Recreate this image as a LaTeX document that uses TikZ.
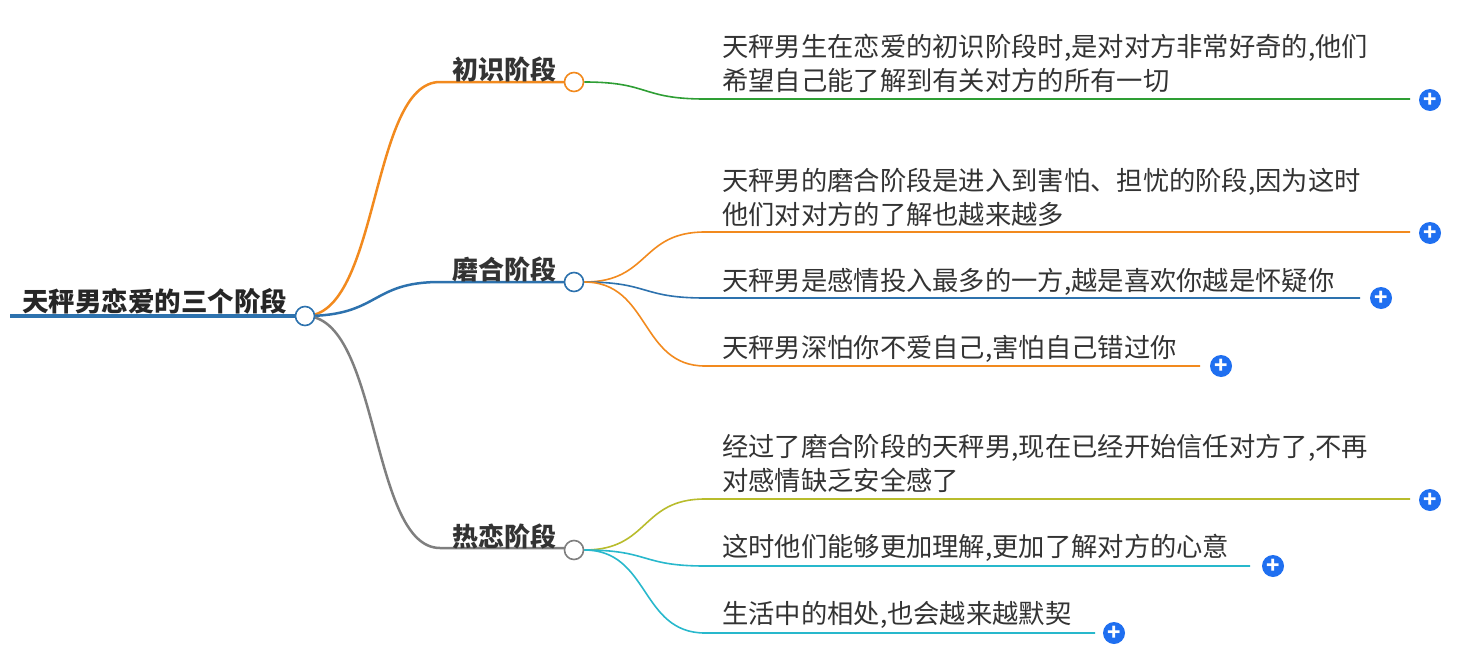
\documentclass[tikz,border=0pt]{standalone}
\usepackage{fontspec}
\setmainfont{Noto Sans CJK SC}
\definecolor{cor}{HTML}{F28A1E}
\definecolor{cgr}{HTML}{2E9E34}
\definecolor{cbl}{HTML}{2D72AE}
\definecolor{cgy}{HTML}{7F7F7F}
\definecolor{col}{HTML}{B8BC2C}
\definecolor{ccy}{HTML}{28B8CC}
\definecolor{cpl}{HTML}{1F6FF0}
\begin{document}
\begin{tikzpicture}[x=1pt,y=-1pt,
  br/.style={line width=2.5pt},
  lf/.style={line width=1.6pt},
  hub/.style={circle,draw=#1,line width=1.6pt,fill=white,minimum size=19pt,inner sep=0pt},
  plus/.style={circle,fill=cpl,minimum size=22pt,inner sep=0pt,text=white,font=\fontsize{22}{22}\selectfont\bfseries},
  mid/.style={anchor=south west,inner sep=0pt,font=\fontsize{26}{28}\selectfont\bfseries,text=black!80},
  leaf/.style={anchor=north west,inner sep=0pt,align=left,font=\fontsize{26.3}{34}\selectfont,text=black!80}]
\useasboundingbox (0,0) rectangle (1460,656);
\draw[cbl,line width=4pt] (10,316) -- (305,316);
\node[anchor=south west,inner sep=0pt,font=\fontsize{26.5}{28}\selectfont\bfseries,text=black!85] (root) at (22,314) {天秤男恋爱的三个阶段};
\coordinate (r) at (305,316);
\draw[br,cor] (r) .. controls (380,316) and (370,82) .. (440,82) -- (565,82);
\draw[br,cbl] (r) .. controls (380,316) and (370,282) .. (440,282) -- (565,282);
\draw[br,cgy] (r) .. controls (380,316) and (370,548) .. (440,548) -- (565,548);
\node[hub=cbl] (rc) at (r) {};
\node[hub=cor] (h1) at (574,82) {};
\node[hub=cbl] (h2) at (574,282) {};
\node[hub=cgy] (h3) at (574,550) {};
\node[mid] (m1) at (452,82) {初识阶段};
\node[mid] (m2) at (452,282) {磨合阶段};
\node[mid] (m3) at (452,549) {热恋阶段};
\node[plus] (p1) at (1430,100) {+};
\node[plus] (p2) at (1430,233) {+};
\node[plus] (p3) at (1381,298) {+};
\node[plus] (p4) at (1221,366) {+};
\node[plus] (p5) at (1430,500) {+};
\node[plus] (p6) at (1273,566) {+};
\node[plus] (p7) at (1114,633) {+};
\draw[lf,cgr] (h1.east) .. controls (650,82) and (640,99) .. (705,99) -- (1410,99);
\draw[lf,cor] (h2.east) .. controls (650,282) and (640,232) .. (705,232) -- (1410,232);
\draw[lf,cbl] (h2.east) .. controls (650,282) and (640,298) .. (705,298) -- (1360,298);
\draw[lf,cor] (h2.east) .. controls (650,282) and (640,366) .. (705,366) -- (1200,366);
\draw[lf,col] (h3.east) .. controls (650,550) and (640,499) .. (705,499) -- (1410,499);
\draw[lf,ccy] (h3.east) .. controls (650,550) and (640,566) .. (705,566) -- (1250,566);
\draw[lf,ccy] (h3.east) .. controls (650,550) and (640,633) .. (705,633) -- (1095,633);
\node[leaf] (l1) at (722,34) {天秤男生在恋爱的初识阶段时,是对对方非常好奇的,他们\\希望自己能了解到有关对方的所有一切};
\node[leaf] (l2) at (722,168) {天秤男的磨合阶段是进入到害怕、担忧的阶段,因为这时\\他们对对方的了解也越来越多};
\node[leaf] (l3) at (722,268) {天秤男是感情投入最多的一方,越是喜欢你越是怀疑你};
\node[leaf] (l4) at (722,335) {天秤男深怕你不爱自己,害怕自己错过你};
\node[leaf] (l5) at (722,434) {经过了磨合阶段的天秤男,现在已经开始信任对方了,不再\\对感情缺乏安全感了};
\node[leaf] (l6) at (722,534) {这时他们能够更加理解,更加了解对方的心意};
\node[leaf] (l7) at (722,601) {生活中的相处,也会越来越默契};
\end{tikzpicture}
\end{document}
